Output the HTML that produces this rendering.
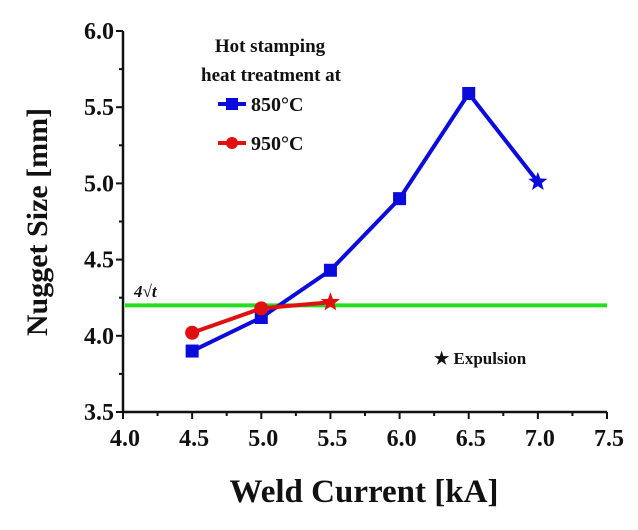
<!DOCTYPE html>
<html><head><meta charset="utf-8"><style>
html,body{margin:0;padding:0;background:#fff;}
svg text{font-family:"Liberation Serif",serif;font-weight:bold;fill:#111;}
</style></head><body>
<svg id="chart" width="638" height="525" viewBox="0 0 638 525" xmlns="http://www.w3.org/2000/svg">
<g id="axes"></g>
<g id="marks"></g>
<text transform="translate(47,222) rotate(-90)" text-anchor="middle" font-size="30">Nugget Size [mm]</text>
<text x="364" y="502" text-anchor="middle" font-size="33">Weld Current [kA]</text>
<g>
<text x="270" y="52" text-anchor="middle" font-size="19">Hot stamping</text>
<text x="271" y="81" text-anchor="middle" font-size="19">heat treatment at</text>
<g>
<line x1="218" y1="104" x2="246" y2="104" stroke="#0b0bdc" stroke-width="4"/>
<rect x="226" y="98" width="12" height="12" fill="#0b0bdc"/>
<text x="251" y="111" font-size="20">850°C</text></g>
<g>
<line x1="218" y1="143" x2="246" y2="143" stroke="#e01010" stroke-width="4"/>
<circle cx="232" cy="143" r="6" fill="#e01010"/>
<text x="251" y="150" font-size="20">950°C</text></g>
</g>
<text x="134" y="297" font-size="17" font-style="italic">4√t</text>
<text x="434" y="364" font-size="17">★ Expulsion</text>
</svg>
<script>
const xTicks=[4.0,4.5,5.0,5.5,6.0,6.5,7.0,7.5];
const yTicks=[3.5,4.0,4.5,5.0,5.5,6.0];
const current850=[4.5,5.0,5.5,6.0,6.5,7.0];
const size850=[3.90,4.12,4.43,4.90,5.59,5.01];
const current950=[4.5,5.0,5.5];
const size950=[4.02,4.18,4.22];
const threshold=[4.2];
const NS="http://www.w3.org/2000/svg";
const X0=123,X1=607,Y0=412,Y1=31;
const sx=v=>X0+(v-4)/(3.5)*(X1-X0);
const sy=v=>Y0-(v-3.5)/2.5*(Y0-Y1);
function mk(t,a,p){const e=document.createElementNS(NS,t);for(const k in a)e.setAttribute(k,a[k]);p.appendChild(e);return e;}
const ax=document.getElementById('axes'),mg=document.getElementById('marks');
let l=mk('line',{x1:X0,y1:Y0,x2:X1,y2:Y0,stroke:'#111','stroke-width':2.5},ax);

l=mk('line',{x1:X0,y1:Y0,x2:X0,y2:Y1,stroke:'#111','stroke-width':2.5},ax);

xTicks.forEach((v,i)=>{
 mk('line',{x1:sx(v),y1:Y0,x2:sx(v),y2:Y0+7,stroke:'#111','stroke-width':2},ax);
 if(i<xTicks.length-1)mk('line',{x1:sx(v+0.25),y1:Y0,x2:sx(v+0.25),y2:Y0+4,stroke:'#111','stroke-width':2},ax);
 const t=mk('text',{x:sx(v)+2,y:Y0+34,'text-anchor':'middle','font-size':24},ax);t.textContent=v.toFixed(1);
 
});
yTicks.forEach((v,i)=>{
 mk('line',{x1:X0-7,y1:sy(v),x2:X0,y2:sy(v),stroke:'#111','stroke-width':2},ax);
 if(i<yTicks.length-1)mk('line',{x1:X0-4,y1:sy(v+0.25),x2:X0,y2:sy(v+0.25),stroke:'#111','stroke-width':2},ax);
 const t=mk('text',{x:X0-9,y:sy(v)+8,'text-anchor':'end','font-size':24},ax);t.textContent=v.toFixed(1);
 
});
l=mk('line',{x1:X0+2,y1:sy(threshold[0]),x2:X1,y2:sy(threshold[0]),stroke:'#22dd22','stroke-width':4},mg);

function star(cx,cy,r,fill){let p='';for(let i=0;i<10;i++){const a=-Math.PI/2+i*Math.PI/5,rr=i%2?r*0.42:r;p+=(cx+rr*Math.cos(a))+','+(cy+rr*Math.sin(a))+' ';}return mk('polygon',{points:p,fill:fill},mg);}
function series(xs,ys,col,kind,name){
 const pl=mk('polyline',{points:xs.map((x,i)=>sx(x)+','+sy(ys[i])).join(' '),fill:'none',stroke:col,'stroke-width':4},mg);
 
 xs.forEach((x,i)=>{let e;const cx=sx(x),cy=sy(ys[i]);
  if(i===xs.length-1)e=star(cx,cy,10,col);
  else if(kind==='sq')e=mk('rect',{x:cx-6.5,y:cy-6.5,width:13,height:13,fill:col},mg);
  else e=mk('circle',{cx:cx,cy:cy,r:7,fill:col},mg);
  });
}
series(current850,size850,'#0b0bdc','sq','series-850');
series(current950,size950,'#e01010','ci','series-950');
</script>
</body></html>
